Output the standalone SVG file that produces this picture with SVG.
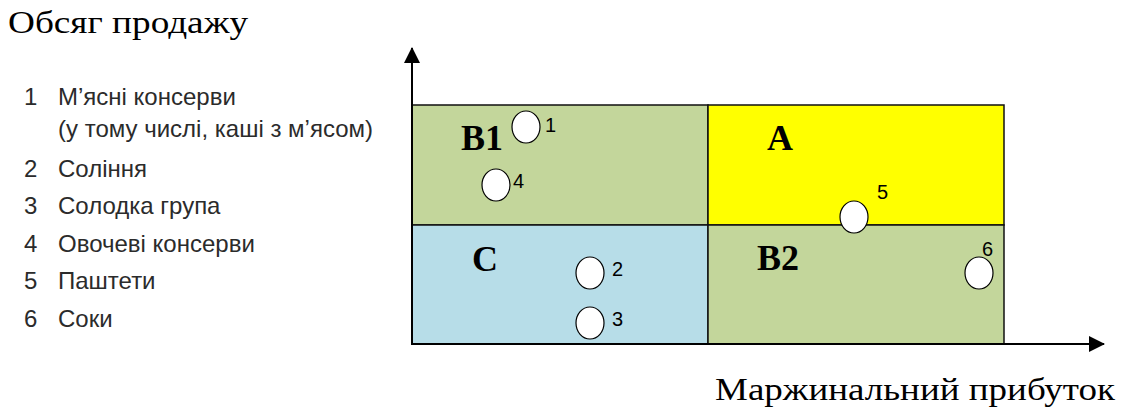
<svg xmlns="http://www.w3.org/2000/svg" width="1130" height="408" viewBox="0 0 1130 408">
<style>
.title{font-family:"Liberation Serif",serif;font-size:32px;fill:#000}
.leg{font-family:"Liberation Sans",Arial,sans-serif;font-size:24px;fill:#2b2b2b}
.q{font-family:"Liberation Serif",serif;font-size:36px;font-weight:bold;fill:#000}
.num{font-family:"Liberation Sans",Arial,sans-serif;font-size:20px;fill:#000}
.cell{stroke:#111;stroke-width:1.5}
.pt{fill:#fff;stroke:#000;stroke-width:1.2}
.axis{stroke:#000;stroke-width:2;fill:none}
</style>
<defs>
<marker id="arr" viewBox="0 0 16 16" refX="15" refY="8" markerWidth="16" markerHeight="16" markerUnits="userSpaceOnUse" orient="auto">
<path d="M0,0 L16,8 L0,16 Z" fill="#000"/>
</marker>
</defs>
<rect width="1130" height="408" fill="#fff"/>
<text class="title" x="8" y="33" textLength="240" lengthAdjust="spacingAndGlyphs">Обсяг продажу</text>
<g id="legend">
<text class="leg" x="24" y="105">1</text><text class="leg" x="58" y="105">М’ясні консерви</text>
<text class="leg" x="58" y="137">(у тому числі, каші з м’ясом)</text>
<text class="leg" x="24" y="177">2</text><text class="leg" x="58" y="177">Соління</text>
<text class="leg" x="24" y="214">3</text><text class="leg" x="58" y="214">Солодка група</text>
<text class="leg" x="24" y="252">4</text><text class="leg" x="58" y="252">Овочеві консерви</text>
<text class="leg" x="24" y="289">5</text><text class="leg" x="58" y="289">Паштети</text>
<text class="leg" x="24" y="327">6</text><text class="leg" x="58" y="327">Соки</text>
</g>
<g id="quadB1"><rect class="cell" x="412" y="105" width="296" height="120" fill="#c3d69b"/><text class="q" x="461" y="150">B1</text></g>
<g id="quadA"><rect class="cell" x="708" y="105" width="296" height="120" fill="#ffff00"/><text class="q" x="767" y="150">A</text></g>
<g id="quadC"><rect class="cell" x="412" y="225" width="296" height="119" fill="#b7dde8"/><text class="q" x="472" y="271">C</text></g>
<g id="quadB2"><rect class="cell" x="708" y="225" width="296" height="119" fill="#c3d69b"/><text class="q" x="757" y="270">B2</text></g>
<g id="connectors">
<line class="axis" x1="412" y1="345" x2="412" y2="48" marker-end="url(#arr)"/>
<line class="axis" x1="411" y1="344" x2="1104" y2="344" marker-end="url(#arr)"/>
</g>
<g id="p1"><ellipse class="pt" cx="526" cy="127" rx="14" ry="16"/><text class="num" x="545" y="132">1</text></g>
<g id="p4"><ellipse class="pt" cx="496" cy="185" rx="14" ry="16"/><text class="num" x="513" y="188">4</text></g>
<g id="p2"><ellipse class="pt" cx="590" cy="273" rx="14" ry="16"/><text class="num" x="612" y="276">2</text></g>
<g id="p3"><ellipse class="pt" cx="590" cy="323" rx="14" ry="16"/><text class="num" x="612" y="326">3</text></g>
<g id="p5"><ellipse class="pt" cx="854" cy="217" rx="14" ry="16"/><text class="num" x="877" y="199">5</text></g>
<g id="p6"><ellipse class="pt" cx="979" cy="273" rx="14" ry="16"/><text class="num" x="982" y="256">6</text></g>
<text class="title" x="715" y="400" textLength="400" lengthAdjust="spacingAndGlyphs">Маржинальний прибуток</text>
</svg>
